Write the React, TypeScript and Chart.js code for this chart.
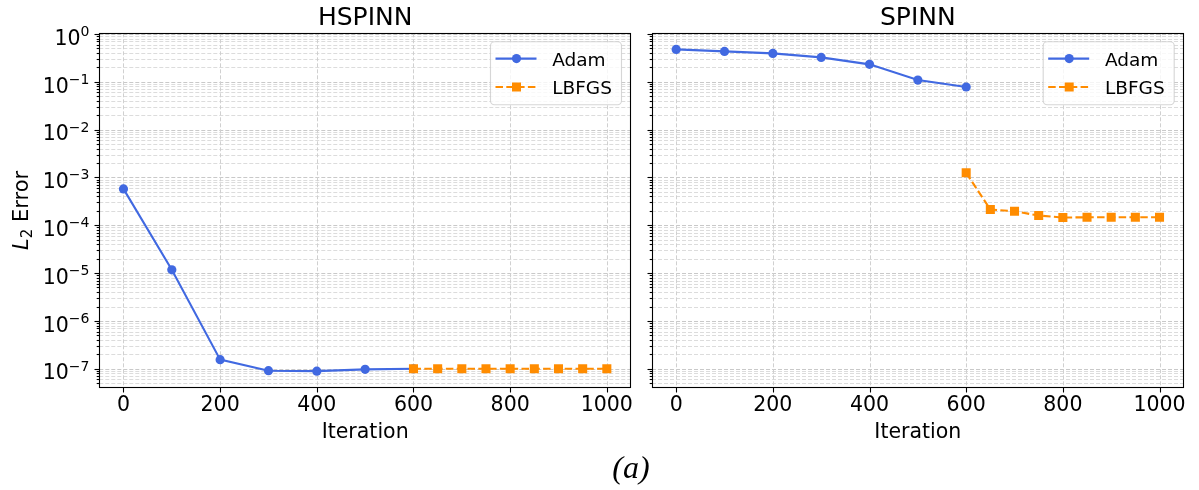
import React, { useEffect, useRef } from 'react';
import { Chart, registerables } from 'chart.js';

Chart.register(...registerables);

// ---------------- data ----------------
const adamIters = [0, 100, 200, 300, 400, 500, 600];
const lbfgsIters = [600, 650, 700, 750, 800, 850, 900, 950, 1000];

const hspinnAdam = [5.77e-4, 1.17e-5, 1.55e-7, 9.1e-8, 8.9e-8, 9.7e-8, 1.0e-7];
const hspinnLbfgs = [1.0e-7, 1.0e-7, 1.0e-7, 1.0e-7, 1.0e-7, 1.0e-7, 1.0e-7, 1.0e-7, 1.0e-7];

const spinnAdam = [0.477, 0.433, 0.393, 0.324, 0.232, 0.109, 0.078];
const spinnLbfgs = [1.25e-3, 2.13e-4, 1.96e-4, 1.6e-4, 1.45e-4, 1.47e-4, 1.47e-4, 1.47e-4, 1.47e-4];

const xTickValues = [0, 200, 400, 600, 800, 1000];
const yDecadeExps = [0, -1, -2, -3, -4, -5, -6, -7];
const seriesNames = ['Adam', 'LBFGS'];
const panelTitles = ['HSPINN', 'SPINN'];
const xAxisTitle = 'Iteration';
const figLabel = '(a)';

// ---------------- style ----------------
const BLUE = '#4169E1';
const ORANGE = '#FF8C00';
const FONT = '"DejaVu Sans"';
const X_MIN = -50;
const X_MAX = 1050;
const Y_MIN = 4.05e-8;
const Y_MAX = 1.035;
const DASH = [7.5, 3.3];
const GRID_DASH = [4, 2];

function isDecade(v: number) {
  const l = Math.log10(v);
  return Math.abs(l - Math.round(l)) < 1e-6;
}

function yTickList() {
  const out: number[] = [];
  for (let e = -8; e <= 0; e++) {
    for (let k = 1; k <= 9; k++) {
      const v = k * Math.pow(10, e);
      if (v >= Y_MIN && v <= Y_MAX) out.push(v);
    }
  }
  return out;
}

function toPoints(xs: number[], ys: number[]) {
  return xs.map((x, i) => ({ x, y: ys[i] }));
}

type PanelOpts = {
  title: string;
  showYLabels: boolean;
};

const decorPlugin = {
  id: 'decor',
  beforeDatasetsDraw(chart: any) {
    const { ctx, chartArea } = chart;
    const xs = chart.scales.x;
    const ys = chart.scales.y;
    ctx.save();
    ctx.beginPath();
    ctx.rect(chartArea.left, chartArea.top, chartArea.right - chartArea.left, chartArea.bottom - chartArea.top);
    ctx.clip();
    ctx.lineWidth = 1;
    ctx.setLineDash(GRID_DASH);
    // horizontal grid (major + minor)
    for (const v of yTickList()) {
      const y = Math.round(ys.getPixelForValue(v)) + 0.5;
      ctx.strokeStyle = isDecade(v) ? '#c9c9c9' : '#dcdcdc';
      ctx.beginPath();
      ctx.moveTo(chartArea.left, y);
      ctx.lineTo(chartArea.right, y);
      ctx.stroke();
    }
    // vertical grid (major)
    ctx.strokeStyle = '#d0d0d0';
    for (const v of xTickValues) {
      const x = Math.round(xs.getPixelForValue(v)) + 0.5;
      ctx.beginPath();
      ctx.moveTo(x, chartArea.top);
      ctx.lineTo(x, chartArea.bottom);
      ctx.stroke();
    }
    ctx.restore();
  },
  afterDraw(chart: any, _args: any, opts: PanelOpts) {
    const { ctx, chartArea } = chart;
    const xs = chart.scales.x;
    const ys = chart.scales.y;
    const L = Math.round(chartArea.left) + 0.5;
    const R = Math.round(chartArea.right) - 0.5;
    const T = Math.round(chartArea.top) + 0.5;
    const B = Math.round(chartArea.bottom) - 0.5;
    ctx.save();

    // spines
    ctx.strokeStyle = '#000';
    ctx.lineWidth = 1.1;
    ctx.setLineDash([]);
    ctx.strokeRect(L, T, R - L, B - T);

    // y tick marks
    for (const v of yTickList()) {
      const y = Math.round(ys.getPixelForValue(v)) + 0.5;
      const len = isDecade(v) ? 5 : 2.8;
      ctx.beginPath();
      ctx.moveTo(L - len, y);
      ctx.lineTo(L, y);
      ctx.stroke();
    }
    // x tick marks
    for (const v of xTickValues) {
      const x = Math.round(xs.getPixelForValue(v)) + 0.5;
      ctx.beginPath();
      ctx.moveTo(x, B);
      ctx.lineTo(x, B + 5);
      ctx.stroke();
    }

    ctx.fillStyle = '#000';
    // y tick labels (10^n)
    if (opts.showYLabels) {
      const rightX = L - 10;
      for (const e of yDecadeExps) {
        const y = ys.getPixelForValue(Math.pow(10, e));
        const expStr = e === 0 ? '0' : '\u2212' + Math.abs(e);
        ctx.font = `14px ${FONT}`;
        ctx.textAlign = 'right';
        ctx.textBaseline = 'alphabetic';
        const ew = ctx.measureText(expStr).width;
        ctx.fillText(expStr, rightX, y + 2);
        ctx.font = `20.5px ${FONT}`;
        ctx.fillText('10', rightX - ew, y + 10.7);
      }

      // y axis title: L_2 Error
      const cy = (chartArea.top + chartArea.bottom) / 2;
      ctx.save();
      ctx.translate(28, cy);
      ctx.rotate(-Math.PI / 2);
      ctx.textAlign = 'left';
      ctx.textBaseline = 'alphabetic';
      ctx.font = `italic 21px ${FONT}`;
      const wL = ctx.measureText('L').width;
      ctx.font = `15px ${FONT}`;
      const w2 = ctx.measureText('2').width;
      ctx.font = `21px ${FONT}`;
      const wE = ctx.measureText(' Error').width;
      let u = -(wL + w2 + wE) / 2;
      ctx.font = `italic 21px ${FONT}`;
      ctx.fillText('L', u, 0);
      u += wL;
      ctx.font = `15px ${FONT}`;
      ctx.fillText('2', u, 3.5);
      u += w2;
      ctx.font = `21px ${FONT}`;
      ctx.fillText(' Error', u, 0);
      ctx.restore();
    }

    // title
    const cx = (chartArea.left + chartArea.right) / 2;
    ctx.textAlign = 'center';
    ctx.textBaseline = 'alphabetic';
    ctx.font = `25px ${FONT}`;
    ctx.fillText(opts.title, cx, 25);

    // x axis title
    ctx.font = `20.5px ${FONT}`;
    ctx.fillText(xAxisTitle, cx, 438.3);

    // legend
    const w = 131;
    const h = 63;
    const x0 = chartArea.right - 9.5 - w;
    const y0 = chartArea.top + 8.5;
    ctx.beginPath();
    if (ctx.roundRect) ctx.roundRect(x0, y0, w, h, 4);
    else ctx.rect(x0, y0, w, h);
    ctx.fillStyle = 'rgba(255,255,255,0.8)';
    ctx.fill();
    ctx.strokeStyle = 'rgba(204,204,204,0.8)';
    ctx.lineWidth = 1.1;
    ctx.stroke();

    const rows = [y0 + 16.8, y0 + 45.2];
    const dsets = chart.data.datasets;
    for (let i = 0; i < 2; i++) {
      const ds = dsets[i];
      const ry = rows[i];
      ctx.strokeStyle = ds.borderColor;
      ctx.lineWidth = 2.1;
      ctx.setLineDash(ds.borderDash || []);
      ctx.beginPath();
      ctx.moveTo(x0 + 5, ry);
      ctx.lineTo(x0 + 46, ry);
      ctx.stroke();
      ctx.setLineDash([]);
      ctx.fillStyle = ds.borderColor;
      const mx = x0 + 26;
      if (ds.pointStyle === 'rect') {
        ctx.fillRect(mx - 4.5, ry - 4.5, 9, 9);
      } else {
        ctx.beginPath();
        ctx.arc(mx, ry, 4.6, 0, Math.PI * 2);
        ctx.fill();
      }
      ctx.fillStyle = '#000';
      ctx.font = `18.5px ${FONT}`;
      ctx.textAlign = 'left';
      ctx.fillText(ds.label, x0 + 61.7, ry + 7);
    }

    ctx.restore();
  },
};

function makeConfig(
  adam: number[],
  lbfgs: number[],
  title: string,
  showYLabels: boolean,
  yAxisWidth: number,
  rightPad: number
): any {
  const yTicks = yTickList();
  return {
    type: 'line',
    data: {
      datasets: [
        {
          label: seriesNames[0],
          data: toPoints(adamIters, adam),
          borderColor: BLUE,
          backgroundColor: BLUE,
          pointBackgroundColor: BLUE,
          borderWidth: 2.1,
          pointRadius: 4.6,
          pointHoverRadius: 4.6,
          pointBorderWidth: 0,
          pointStyle: 'circle',
          tension: 0,
          fill: false,
          order: 1,
        },
        {
          label: seriesNames[1],
          data: toPoints(lbfgsIters, lbfgs),
          borderColor: ORANGE,
          backgroundColor: ORANGE,
          pointBackgroundColor: ORANGE,
          borderWidth: 2.1,
          borderDash: DASH,
          pointRadius: 6.4,
          pointHoverRadius: 6.4,
          pointBorderWidth: 0,
          pointStyle: 'rect',
          tension: 0,
          fill: false,
          order: 0,
        },
      ],
    },
    options: {
      responsive: false,
      maintainAspectRatio: false,
      animation: false,
      events: [],
      layout: { padding: { top: 33.3, left: 0, right: rightPad, bottom: 0 } },
      plugins: {
        legend: { display: false },
        title: { display: false },
        tooltip: { enabled: false },
        decor: { title, showYLabels },
      },
      scales: {
        x: {
          type: 'linear',
          min: X_MIN,
          max: X_MAX,
          afterBuildTicks: (s: any) => {
            s.ticks = xTickValues.map((v) => ({ value: v }));
          },
          afterFit: (s: any) => {
            s.height = 450 - 387.5;
          },
          ticks: {
            color: '#000',
            padding: 5.5,
            maxRotation: 0,
            autoSkip: false,
            font: { family: 'DejaVu Sans', size: 20.5 },
            callback: (v: any) => String(v),
          },
          grid: { display: false, drawTicks: false },
          border: { display: false },
        },
        y: {
          type: 'logarithmic',
          min: Y_MIN,
          max: Y_MAX,
          afterBuildTicks: (s: any) => {
            s.ticks = yTicks.map((v) => ({ value: v }));
          },
          afterFit: (s: any) => {
            s.width = yAxisWidth;
          },
          ticks: { display: false, autoSkip: false },
          grid: { display: false, drawTicks: false },
          border: { display: false },
        },
      },
    },
    plugins: [decorPlugin],
  };
}

export default function App() {
  const leftRef = useRef<HTMLCanvasElement | null>(null);
  const rightRef = useRef<HTMLCanvasElement | null>(null);

  useEffect(() => {
    const charts: Chart[] = [];
    if (leftRef.current) {
      charts.push(
        new Chart(leftRef.current, makeConfig(hspinnAdam, hspinnLbfgs, panelTitles[0], true, 99.3, 641 - 631))
      );
    }
    if (rightRef.current) {
      charts.push(
        new Chart(rightRef.current, makeConfig(spinnAdam, spinnLbfgs, panelTitles[1], false, 11, 558 - 542.7))
      );
    }
    return () => {
      charts.forEach((c) => c.destroy());
    };
  }, []);

  return (
    <div
      style={{
        position: 'absolute',
        left: 0,
        top: 0,
        width: 1199,
        height: 490,
        background: '#ffffff',
        overflow: 'hidden',
      }}
    >
      <canvas
        ref={leftRef}
        width={641}
        height={450}
        style={{ position: 'absolute', left: 0, top: 0, width: 641, height: 450 }}
      />
      <canvas
        ref={rightRef}
        width={558}
        height={450}
        style={{ position: 'absolute', left: 641, top: 0, width: 558, height: 450 }}
      />
      <svg
        width={1199}
        height={490}
        style={{ position: 'absolute', left: 0, top: 0, pointerEvents: 'none' }}
      >
        <text
          x={631}
          y={478}
          textAnchor="middle"
          fontFamily="Liberation Serif"
          fontStyle="italic"
          fontSize={32}
          fill="#000"
        >
          {figLabel}
        </text>
      </svg>
    </div>
  );
}
